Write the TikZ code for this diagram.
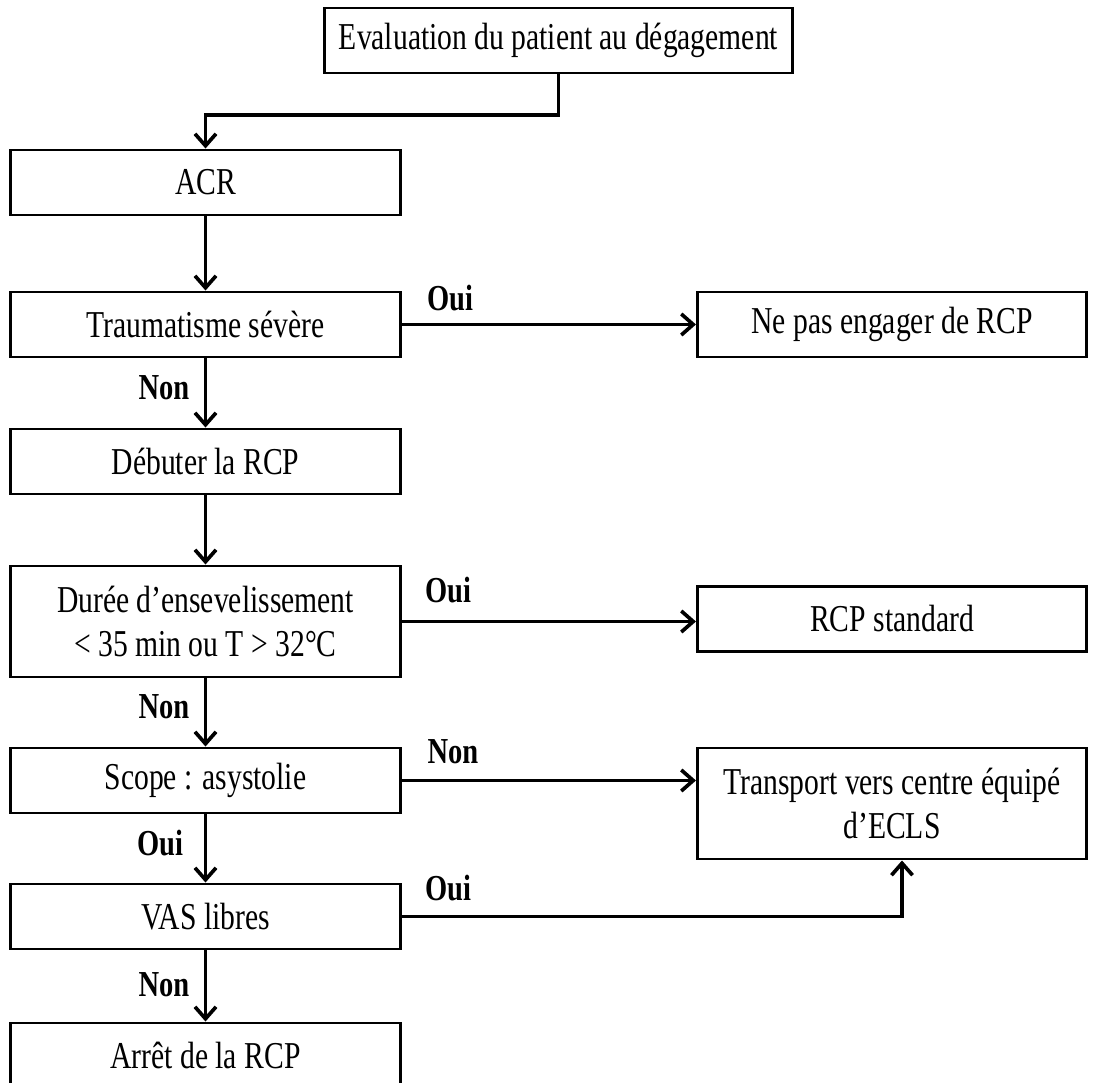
\documentclass[tikz,border=0pt]{standalone}
\usepackage{fontspec}
\setmainfont[FakeStretch=0.78]{Liberation Serif}
\usetikzlibrary{arrows.meta}
\begin{document}
\begin{tikzpicture}[x=0.025cm,y=-0.025cm,
    boite/.style={draw,line width=2.1pt,minimum width=9.725cm,minimum height=1.625cm,
        inner sep=0pt,align=center,font=\fontsize{27}{31}\selectfont},
    fleche/.style={line width=2.6pt,-{Straight Barb[length=8.5pt,width=15pt,line width=2.6pt]}},
    rep/.style={font=\bfseries\fontsize{26}{30}\selectfont}]
        \clip (0,0) rectangle (1098,1083);
        % colonne de gauche
        \node[boite,minimum width=11.675cm] (eval) at (558.5,40.5) {Evaluation du patient au dégagement};
        \node[boite] (acr) at (205.5,182.5) {ACR};
        \node[boite] (trauma) at (205.5,324.5) {Traumatisme sévère};
        \node[boite] (debut) at (205.5,461.5) {Débuter la RCP};
        \node[boite,minimum height=2.775cm] (duree) at (205.5,621.5) {Durée d’ensevelissement\\< 35 min ou T > 32°C};
        \node[boite] (scope) at (205.5,780.5) {Scope : asystolie};
        \node[boite] (vas) at (205.5,916.5) {VAS libres};
        \node[boite] (arret) at (205.5,1055.5) {Arrêt de la RCP};
        % colonne de droite
        \node[boite] (nepas) at (892,324.5) {Ne pas engager de RCP};
        \node[boite] (rcpstd) at (892,619) {RCP standard};
        \node[boite,minimum height=2.775cm] (transport) at (892,803.5) {Transport vers centre équipé\\d’ECLS};
        % fleches
        \coordinate (coude) at (558.5,115);
        \draw[fleche] (eval.south) -- (coude) -| (acr.north);
        \draw[fleche] (acr) -- (trauma);
        \draw[fleche] (trauma) -- (debut);
        \draw[fleche] (debut) -- (duree);
        \draw[fleche] (duree) -- (scope);
        \draw[fleche] (scope) -- (vas);
        \draw[fleche] (vas) -- (arret);
        \draw[fleche] (trauma.east) -- (nepas.west);
        \draw[fleche] (duree.east) -- (duree.east -| rcpstd.west);
        \draw[fleche] (scope.east) -- (scope.east -| transport.west);
        \draw[fleche] (vas.east) -| ([xshift=0.25cm]transport.south);
        % reponses
        \node[rep] (r1) at (450,298) {Oui};
        \node[rep] (r2) at (164,388) {Non};
        \node[rep] (r3) at (448,590) {Oui};
        \node[rep] (r4) at (164,707) {Non};
        \node[rep] (r5) at (453,752) {Non};
        \node[rep] (r6) at (160,843) {Oui};
        \node[rep] (r7) at (448,888) {Oui};
        \node[rep] (r8) at (164,985) {Non};
\end{tikzpicture}
\end{document}
